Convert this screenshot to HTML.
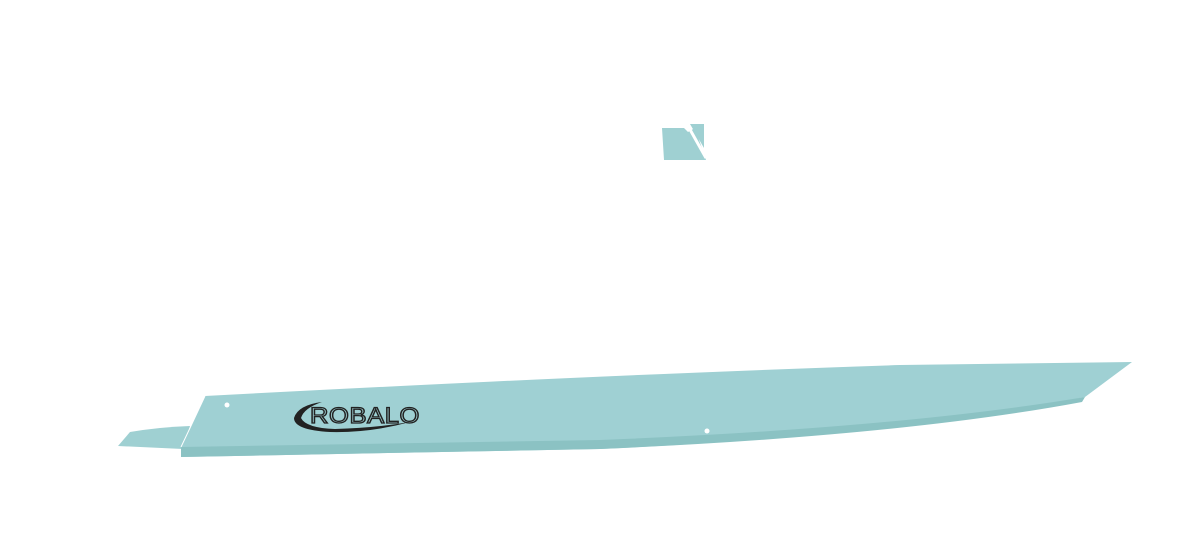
<!DOCTYPE html>
<html><head><meta charset="utf-8"><style>
html,body{margin:0;padding:0;background:#fff;width:1200px;height:546px;overflow:hidden}
</style></head><body>
<svg width="1200" height="546" viewBox="0 0 1200 546" xmlns="http://www.w3.org/2000/svg">
<path d="M118,446 L130,432 Q160,427 190,426 L183,449 Z" fill="#9fd0d2"/>
<path d="M205,396 Q600,375 900,365 L1132,362 L1085,397 Q900,435 600,449 L181,457 L181,447 L190,428 Z" fill="#9fd0d3"/>
<path d="M181,447 L600,440 Q900,428 1085,397 L1082,402 Q900,436 600,449 L181,457 Z" fill="#8bc2c3"/>
<path d="M205,396 L190,428 L181,447" stroke="#fff" stroke-width="1" fill="none"/>
<circle cx="227" cy="405" r="2.5" fill="#fff"/>
<circle cx="707" cy="431" r="2.5" fill="#fff"/>
<path d="M294,418 Q298,405 322,402 Q304,408 301,418 Q306,428 335,429 Q375,428 410,422 Q370,433 330,432 Q294,430 294,418 Z" fill="#222"/>
<text x="310" y="423" font-family="Liberation Sans, sans-serif" font-size="22" fill="none" stroke="#222" stroke-width="1.3" letter-spacing="0.5" textLength="110" lengthAdjust="spacingAndGlyphs">ROBALO</text>
<path d="M662,128 L684,128 L688,132 L695,128 L706,160 L664,160 Z" fill="#9fd0d2"/>
<path d="M690,124 L704,124 L704,148 Z" fill="#9fd0d2"/>
<path d="M688,126 L706,158" stroke="#fff" stroke-width="3"/>
</svg>
</body></html>
